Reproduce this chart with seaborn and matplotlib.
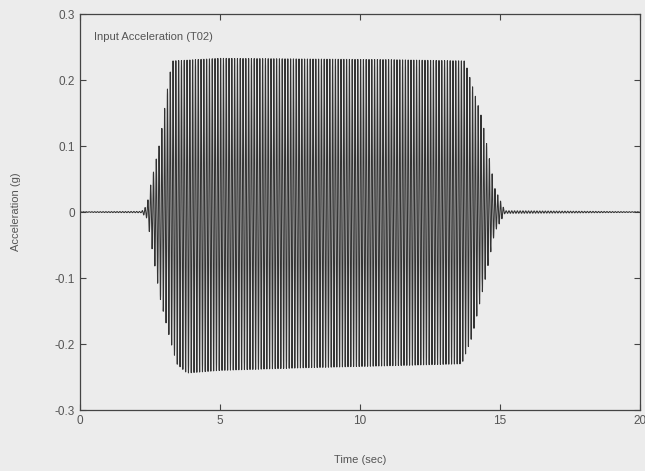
import numpy as np
import matplotlib
matplotlib.use('Agg')
import matplotlib.pyplot as plt
import seaborn as sns

# envelope of the input sine sweep
ENV_T_UP = [0.0, 2.2, 2.39, 2.5, 2.86, 3.1, 3.29, 5.0, 8.0, 11.0, 13.75, 14.36, 14.82, 15.18, 20.0]
ENV_UP   = [0.0005, 0.001, 0.01, 0.036, 0.107, 0.18, 0.229, 0.233, 0.232, 0.231, 0.229, 0.142, 0.036, 0.002, 0.0005]
ENV_T_LO = [0.0, 2.2, 2.4, 2.86, 3.2, 3.46, 3.82, 5.0, 8.0, 11.0, 13.64, 14.0, 14.46, 14.82, 15.18, 20.0]
ENV_LO   = [0.0005, 0.001, 0.01, 0.13, 0.19, 0.23, 0.244, 0.24, 0.236, 0.233, 0.23, 0.19, 0.105, 0.03, 0.002, 0.0005]
FREQ_HZ = 10.0      # carrier frequency of the shaking table input
DT = 0.005

X_TICKS = [0, 5, 10, 15, 20]
Y_TICKS = [-0.3, -0.2, -0.1, 0, 0.1, 0.2, 0.3]
Y_LABELS = ['-0.3', '-0.2', '-0.1', '0', '0.1', '0.2', '0.3']

t = np.arange(0, 20 + DT, DT)
carrier = np.sin(2 * np.pi * FREQ_HZ * t)
up = np.interp(t, ENV_T_UP, ENV_UP)
lo = np.interp(t, ENV_T_LO, ENV_LO)
acc = np.where(carrier >= 0, carrier * up, carrier * lo)

sns.set_style('ticks')
plt.rcParams['font.family'] = ['Liberation Sans', 'DejaVu Sans']

bg = '#ececec'
txt = '#555555'
fig = plt.figure(figsize=(6.45, 4.71), dpi=100, facecolor=bg)
ax = fig.add_axes([0.124, 0.1295, 0.868, 0.8405])
ax.set_facecolor(bg)

sns.lineplot(x=t, y=acc, ax=ax, color='#333333', linewidth=0.75, estimator=None)

ax.set_xlim(0, 20)
ax.set_ylim(-0.3, 0.3)
ax.set_xticks(X_TICKS)
ax.set_xticklabels([str(v) for v in X_TICKS])
ax.set_yticks(Y_TICKS)
ax.set_yticklabels(Y_LABELS)
ax.tick_params(direction='in', top=True, right=True, length=4, width=0.8,
               labelsize=8.5, colors='#444444', labelcolor=txt)
for s in ax.spines.values():
    s.set_color('#444444')
    s.set_linewidth(0.9)

ax.set_xlabel('Time (sec)', fontsize=8, color=txt, labelpad=20)
ax.set_ylabel('Acceleration (g)', fontsize=8, color=txt, labelpad=24)
ax.text(0.025, 0.955, 'Input Acceleration (T02)', transform=ax.transAxes,
        fontsize=8, color=txt, va='top', ha='left')

fig.savefig('out.png', dpi=100, facecolor=bg)
